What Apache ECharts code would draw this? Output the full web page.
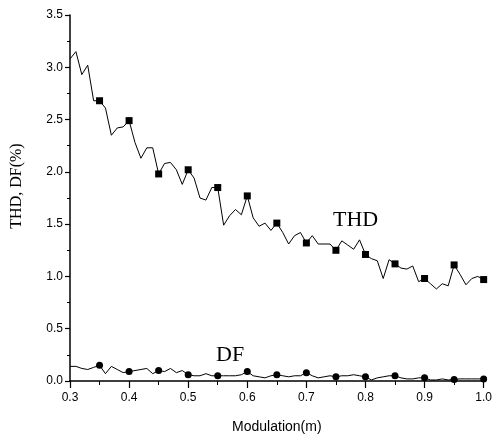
<!DOCTYPE html>
<html>
<head>
<meta charset="utf-8">
<script src="https://cdn.jsdelivr.net/npm/echarts@6/dist/echarts.min.js"></script>
<style>html,body{margin:0;padding:0;background:#fff;}#c{width:495px;height:439px;}</style>
</head>
<body>
<div id="c"></div>
<script>
const modulation = [0.30,0.31,0.32,0.33,0.34,0.35,0.36,0.37,0.38,0.39,
  0.40,0.41,0.42,0.43,0.44,0.45,0.46,0.47,0.48,0.49,
  0.50,0.51,0.52,0.53,0.54,0.55,0.56,0.57,0.58,0.59,
  0.60,0.61,0.62,0.63,0.64,0.65,0.66,0.67,0.68,0.69,
  0.70,0.71,0.72,0.73,0.74,0.75,0.76,0.77,0.78,0.79,
  0.80,0.81,0.82,0.83,0.84,0.85,0.86,0.87,0.88,0.89,
  0.90,0.91,0.92,0.93,0.94,0.95,0.96,0.97,0.98,0.99,1.00];
const thd = [3.08,3.15,2.93,3.02,2.68,2.68,2.61,2.35,2.42,2.43,
  2.49,2.28,2.13,2.23,2.23,1.98,2.08,2.09,2.02,1.88,
  2.02,1.94,1.75,1.73,1.85,1.85,1.49,1.58,1.64,1.59,
  1.77,1.56,1.48,1.51,1.44,1.51,1.42,1.31,1.39,1.42,
  1.32,1.39,1.31,1.31,1.31,1.25,1.34,1.30,1.26,1.35,
  1.21,1.17,1.15,0.98,1.16,1.12,1.08,1.07,1.10,0.95,
  0.98,0.93,0.88,0.93,0.91,1.11,1.02,0.92,0.98,1.00,0.97];
const df = [0.14,0.14,0.12,0.11,0.13,0.15,0.07,0.14,0.11,0.08,
  0.09,0.10,0.11,0.12,0.07,0.10,0.09,0.12,0.08,0.10,
  0.06,0.05,0.05,0.07,0.05,0.05,0.05,0.05,0.05,0.06,
  0.09,0.05,0.04,0.03,0.05,0.06,0.05,0.04,0.05,0.05,
  0.08,0.05,0.03,0.04,0.05,0.04,0.05,0.05,0.06,0.05,
  0.04,0.01,0.03,0.04,0.05,0.05,0.03,0.02,0.02,0.03,
  0.03,0.01,0.01,0.02,0.01,0.015,0.02,0.02,0.02,0.02,0.02];
const markerStep = 5;
const xTicks = ['0.3','0.4','0.5','0.6','0.7','0.8','0.9','1.0'];
const yTicks = ['0.0','0.5','1.0','1.5','2.0','2.5','3.0','3.5'];

function build(vals, sym) {
  return vals.map((v, i) => ({
    value: [modulation[i], v],
    symbol: (i > 0 && i % markerStep === 0) ? sym : 'none'
  }));
}

const chart = echarts.init(document.getElementById('c'), null, {renderer: 'canvas'});
const sans = 'Liberation Sans, Arial, sans-serif';
const serif = 'Liberation Serif, Times New Roman, serif';
chart.setOption({
  animation: false,
  backgroundColor: '#fff',
  grid: {left: 70, right: 9, top: 15, bottom: 57.5},
  xAxis: {
    type: 'value', min: 0.3, max: 1.0, interval: 0.1,
    name: 'Modulation(m)', nameLocation: 'middle', nameGap: 39,
    nameTextStyle: {fontFamily: sans, fontSize: 14, color: '#000'},
    axisLine: {lineStyle: {color: '#000', width: 1.5}},
    axisTick: {inside: false, length: 7, lineStyle: {color: '#000', width: 1.2}},
    minorTick: {show: true, splitNumber: 2, length: 4, lineStyle: {color: '#000', width: 1}},
    splitLine: {show: false},
    axisLabel: {margin: 11, color: '#000', fontFamily: sans, fontSize: 12,
      formatter: v => xTicks[Math.round((v - 0.3) * 10)]}
  },
  yAxis: {
    type: 'value', min: 0, max: 3.5, interval: 0.5,
    axisLine: {show: true, lineStyle: {color: '#000', width: 1.5}},
    axisTick: {show: true, inside: false, length: 5, lineStyle: {color: '#000', width: 1.2}},
    minorTick: {show: true, splitNumber: 2, length: 3, lineStyle: {color: '#000', width: 1}},
    splitLine: {show: false},
    axisLabel: {margin: 7, color: '#000', fontFamily: sans, fontSize: 12,
      formatter: v => yTicks[Math.round(v * 2)]}
  },
  series: [
    {
      name: 'THD', type: 'line', data: build(thd, 'rect'),
      symbolSize: 7, showAllSymbol: true,
      lineStyle: {color: '#000', width: 1},
      itemStyle: {color: '#000', borderWidth: 0}
    },
    {
      name: 'DF', type: 'line', data: build(df, 'circle'),
      symbolSize: 7, showAllSymbol: true,
      lineStyle: {color: '#000', width: 1},
      itemStyle: {color: '#000', borderWidth: 0}
    }
  ],
  graphic: [
    {type: 'text', x: 17, y: 186, rotation: Math.PI / 2,
      style: {text: 'THD, DF(%)', font: '16px ' + serif, fill: '#000',
        textAlign: 'center', textVerticalAlign: 'middle', align: 'center', verticalAlign: 'middle'}},
    {type: 'text', left: 333, top: 209,
      style: {text: 'THD', font: '22px ' + serif, fill: '#000'}},
    {type: 'text', left: 216, top: 344,
      style: {text: 'DF', font: '22px ' + serif, fill: '#000'}}
  ]
});
</script>
</body>
</html>
